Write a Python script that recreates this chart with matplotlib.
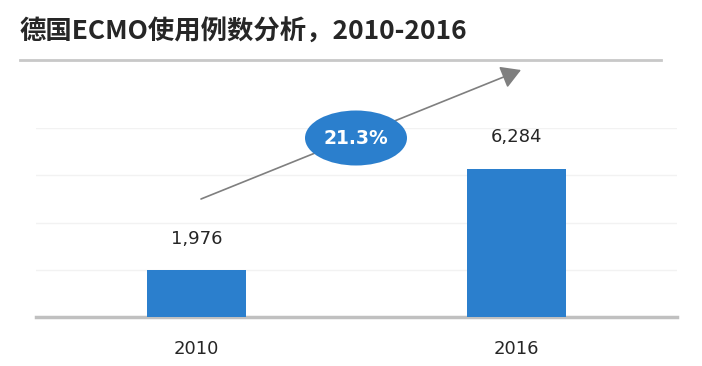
import matplotlib
matplotlib.use("Agg")
import matplotlib.pyplot as plt
from matplotlib.patches import Ellipse
from matplotlib.lines import Line2D

plt.rcParams['font.family'] = ['DejaVu Sans']

# ---- data ----
years = ["2010", "2016"]
cases = [1976, 6284]
value_labels = ["1,976", "6,284"]
cagr_label = "21.3%"
title = "德国ECMO使用例数分析，2010-2016"
yticks = [0, 2000, 4000, 6000, 8000]

BLUE = "#2B7FCD"
TXT = "#262626"

fig = plt.figure(figsize=(7.02, 3.66), dpi=100)
ax = fig.add_axes([36/702, 1-317/366, (677-36)/702, (317-128)/366])

x = list(range(len(years)))
bars = ax.bar(x, cases, width=0.31, color=BLUE, zorder=3)
ax.set_xlim(-0.5, 1.5)
ax.set_ylim(0, yticks[-1])
ax.set_yticks(yticks)
ax.yaxis.grid(True, color="#f2f2f2", linewidth=1.0, zorder=0)
ax.set_axisbelow(True)
ax.tick_params(axis='y', left=False, labelleft=False)
ax.tick_params(axis='x', bottom=False, labelsize=13, labelcolor=TXT, pad=13)
ax.set_xticks(x)
ax.set_xticklabels(years)
for s in ["top", "right", "left"]:
    ax.spines[s].set_visible(False)
ax.spines["bottom"].set_color("#c0c0c0")
ax.spines["bottom"].set_linewidth(2.5)

for xi, v, lab in zip(x, cases, value_labels):
    ax.annotate(lab, (xi, v), xytext=(0, 16), textcoords="offset points",
                ha="center", va="bottom", fontsize=13, color=TXT)

# growth arrow (figure-fraction coordinates)
ax.annotate("", xy=(521/702, 1-70/366), xytext=(201/702, 1-199/366),
            xycoords="figure fraction", textcoords="figure fraction",
            arrowprops=dict(arrowstyle="-|>,head_length=1.2,head_width=0.7",
                            color="#7f7f7f", lw=1.2, shrinkA=0, shrinkB=0),
            annotation_clip=False)

ell = Ellipse((356/702, 1-138/366), 102/702, 55/366, transform=fig.transFigure,
              facecolor=BLUE, edgecolor="none", zorder=5)
fig.patches.append(ell)
fig.text(356/702, 1-138/366, cagr_label, ha="center", va="center",
         color="white", fontsize=13.5, fontweight="bold", zorder=6)

# title and rule
fig.text(20/702, 1-32/366, title, ha="left", va="center", fontsize=19,
         fontweight="bold", color=TXT,
         family=["Noto Sans CJK SC", "DejaVu Sans"])
fig.add_artist(Line2D([20/702, 661/702], [1-60/366, 1-60/366],
                      transform=fig.transFigure, color="#c8c8c8", lw=2))

fig.savefig("out.png", dpi=100)
